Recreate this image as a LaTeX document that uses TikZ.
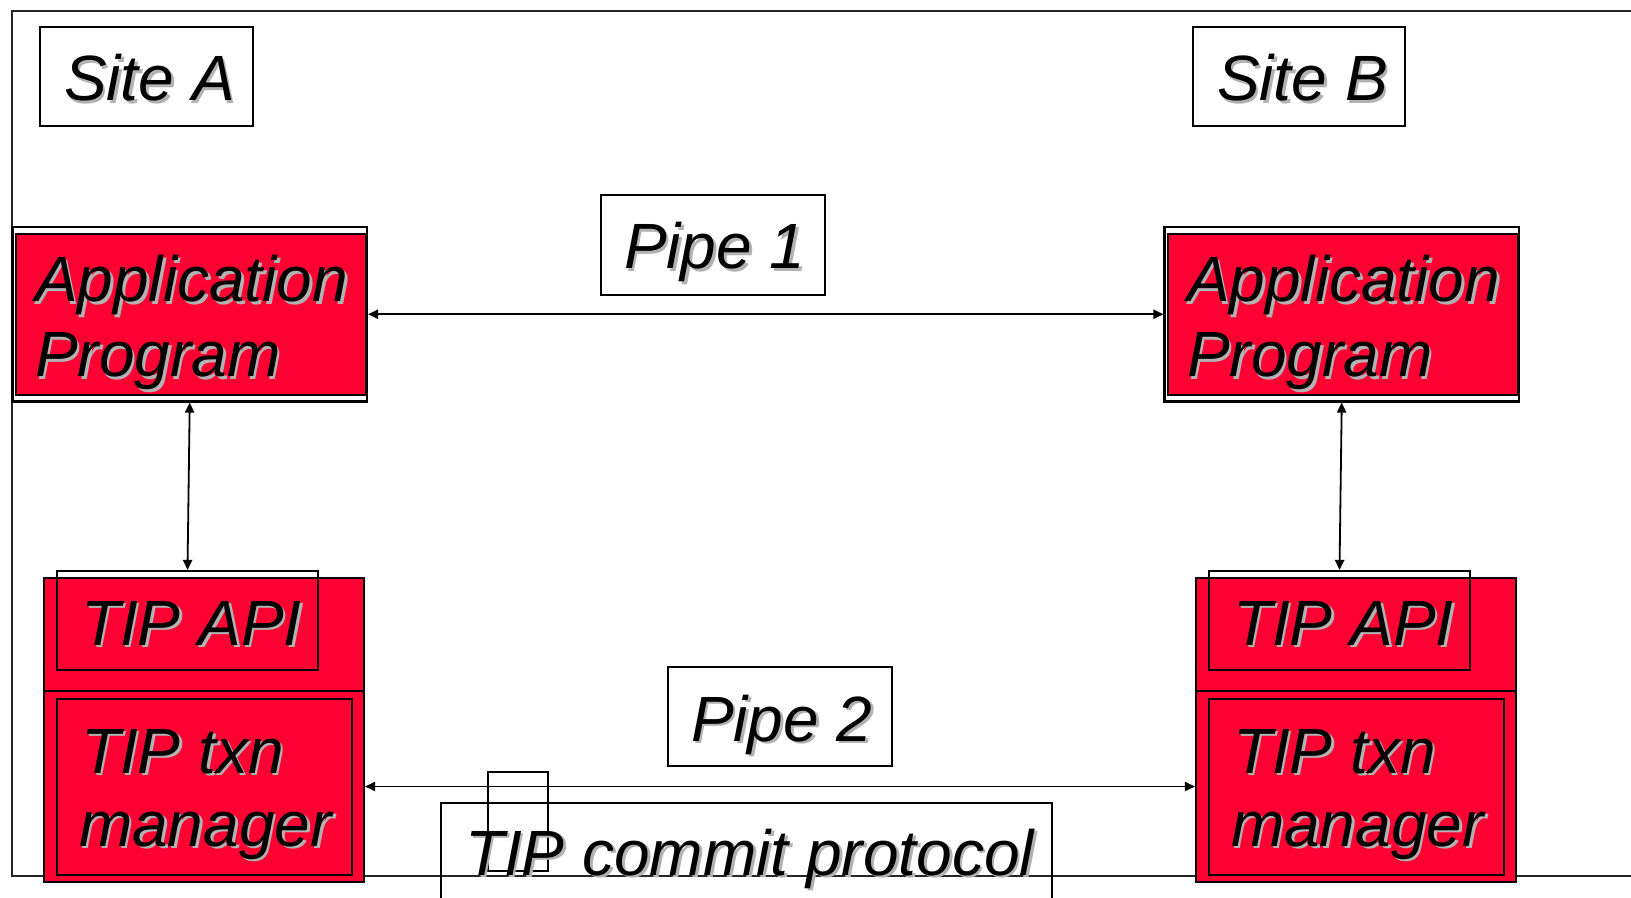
\documentclass[tikz,border=0pt]{standalone}
\usepackage{fontspec}
\setmainfont{Liberation Sans}
\usetikzlibrary{fit,arrows.meta}
\definecolor{boxred}{RGB}{255,0,51}
\definecolor{shadowgray}{RGB}{178,178,178}
% text with a light grey drop shadow
\newcommand\shtext[1]{\rlap{\kern1.4pt\raisebox{-1.4pt}{\textcolor{shadowgray}{#1}}}#1}
\tikzset{
  label/.style={anchor=base west, inner sep=0pt, outer sep=0pt,
    font=\fontsize{32pt}{37.5pt}\selectfont\itshape},
  plainbox/.style={draw=black, line width=1.1pt, inner sep=0pt},
  whitebox/.style={plainbox, fill=white},
  redbox/.style={plainbox, fill=boxred},
  link/.style={line width=0.9pt, {Triangle[length=5pt,width=4.6pt]}-{Triangle[length=5pt,width=4.6pt]}}
}
\begin{document}
\begin{tikzpicture}[x=0.5pt, y=-0.5pt]
\useasboundingbox (0,0) rectangle (1631,898);
\clip (0,0) rectangle (1631,898);

% enclosing frame (runs past the right edge)
\draw[line width=0.8pt, black!85] (12,11) rectangle (1700,876);

% site labels
\node[whitebox, fit={(40,27) (253,126)}] (siteA) {};
\node[label] (siteAt) at (64,101) {\shtext{Site A}};
\node[whitebox, fit={(1193,27) (1405,126)}] (siteB) {};
\node[label] (siteBt) at (1217,101) {\shtext{Site B}};

% pipe labels
\node[whitebox, fit={(601,195) (825,295)}] (pipe1) {};
\node[label] (pipe1t) at (624,269) {\shtext{Pipe 1}};
\node[whitebox, fit={(668,667) (892,766)}] (pipe2) {};
\node[label] (pipe2t) at (691,741) {\shtext{Pipe 2}};

% application programs
\node[whitebox, fit={(12.5,227) (367,401.5)}] (appA) {};
\node[redbox, fit={(15.6,234) (366,395)}] (appAin) {};
\node[label] (appAt1) at (35,302) {\shtext{Application}};
\node[label] (appAt2) at (35,377) {\shtext{Program}};

\node[whitebox, fit={(1164.5,227) (1519,401.5)}] (appB) {};
\node[redbox, fit={(1167.6,234) (1518,395)}] (appBin) {};
\node[label] (appBt1) at (1187,302) {\shtext{Application}};
\node[label] (appBt2) at (1187,377) {\shtext{Program}};

% TIP stacks, site A
\node[redbox, fit={(44,578) (364,691)}] (topA) {};
\node[redbox, fit={(44,691) (364,882)}] (botA) {};
\node[plainbox, fit={(57,571) (318,670)}] (apiA) {};
\node[plainbox, fit={(57,699) (352,875)}] (txnA) {};
\node[label] (apiAt) at (81,645) {\shtext{TIP API}};
\node[label] (txnAt1) at (81,773) {\shtext{TIP txn}};
\node[label] (txnAt2) at (79,846) {\shtext{manager}};

% TIP stacks, site B
\node[redbox, fit={(1196,578) (1516,691)}] (topB) {};
\node[redbox, fit={(1196,691) (1516,882)}] (botB) {};
\node[plainbox, fit={(1209,571) (1470,670)}] (apiB) {};
\node[plainbox, fit={(1209,699) (1504,875)}] (txnB) {};
\node[label] (apiBt) at (1233,645) {\shtext{TIP API}};
\node[label] (txnBt1) at (1233,773) {\shtext{TIP txn}};
\node[label] (txnBt2) at (1231,846) {\shtext{manager}};

% commit protocol box (runs past the bottom edge)
\node[plainbox, fit={(441,803) (1052,960)}] (commit) {};
\node[plainbox, line width=0.9pt, fit={(488,772) (548,871)}] (tick) {};
\node[label] (committ) at (465,875) {\shtext{TIP commit protocol}};

% connectors
\draw[link] (appA.east) -- (appB.west);
\draw[link] (botA.east) -- (botB.west);
\draw[link] (appA.south) -- (apiA.north);
\draw[link] (appB.south) -- (apiB.north);
\end{tikzpicture}
\end{document}
